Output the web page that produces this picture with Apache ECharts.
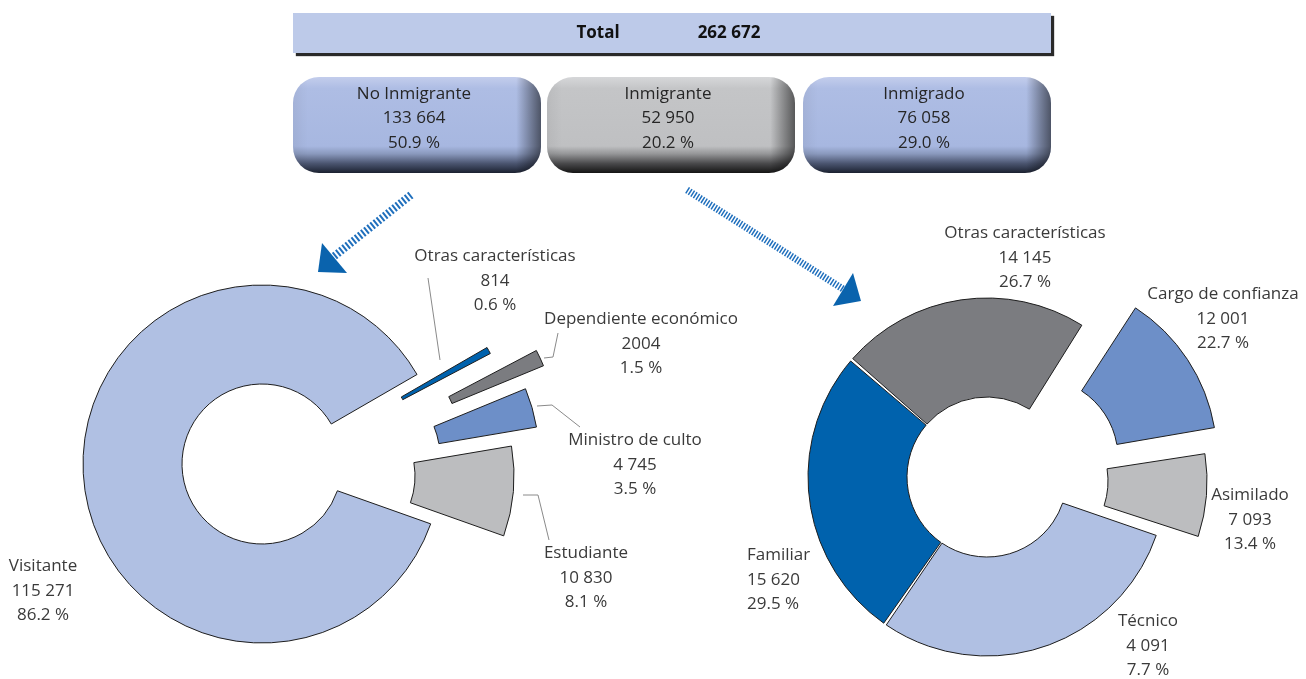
<!DOCTYPE html>
<html>
<head>
<meta charset="utf-8">
<script src="https://cdn.jsdelivr.net/npm/echarts@6/dist/echarts.min.js"></script>
<style>
html, body { margin: 0; padding: 0; background: #fff; }
#main { width: 1306px; height: 679px; }
</style>
</head>
<body>
<div id="main"></div>
<script>
// header
const totalLabel = 'Total';
const totalValue = '262 672';
const groupNames = ['No Inmigrante', 'Inmigrante', 'Inmigrado'];
const groupValues = ['133 664', '52 950', '76 058'];
const groupPct = ['50.9 %', '20.2 %', '29.0 %'];

// No Inmigrante, clockwise from the cut
const leftNames = ['Otras características', 'Dependiente económico', 'Ministro de culto', 'Estudiante', 'Visitante'];
const leftValues = [814, 2004, 4745, 10830, 115271];
const leftShown = ['814', '2004', '4 745', '10 830', '115 271'];
const leftPct = ['0.6 %', '1.5 %', '3.5 %', '8.1 %', '86.2 %'];

// Inmigrante, clockwise from the top cut
const rightNames = ['Cargo de confianza', 'Asimilado', 'Técnico', 'Familiar', 'Otras características'];
const rightValues = [12001, 7093, 4091, 15620, 14145];
const rightShown = ['12 001', '7 093', '4 091', '15 620', '14 145'];
const rightPct = ['22.7 %', '13.4 %', '7.7 %', '29.5 %', '26.7 %'];

window.addEventListener('load', function () {
    let chart = echarts.init(document.getElementById('main'));

    const font = 'Open Sans';
    const txt = '#3a3a3a';
    const edge = '#1e1e1e';

    const leftColors = ['#0062ad', '#7b7c80', '#6d8fc8', '#bcbdbf', '#b0c0e3'];
    // how far each piece is pulled out of the ring
    const leftPull = [[70, -27], [116, -30], [98, -7], [73, 12], [0, 0]];
    const leftPos = [[495, 281, 'center'], [641, 344, 'center'], [635, 465, 'center'], [586, 578, 'center'], [43, 591, 'center']];
    const leftLines = [
        [[440, 360], [434, 319], [428, 278]],
        [[544, 358], [553, 357], [558, 333]],
        [[537, 406], [552, 405], [580, 427]],
        [[523, 495], [538, 495], [549, 540]],
        null
    ];

    const rightColors = ['#6d8fc8', '#bcbdbf', '#b0c0e3', '#0062ad', '#7b7c80'];
    const rightPull = [[51, -19], [41, 4], [0, 0], [0, 0], [0, 0]];
    const rightPos = [[1223, 319, 'center'], [1250, 520, 'center'], [1148, 646, 'center'], [747, 580, 'left'], [1025, 258, 'center']];
    // the original draws every slice one step off its own label, keep that look
    const rightDrawn = rightValues.map((v, i) => rightValues[(i + 1) % rightValues.length]);

    // one series per piece, all slices in each so the angles stay the same
    function pieSeries(center, pull, values, names, shown, pct, colors, only, pos, lines, startAngle, pad) {
        return {
            type: 'pie',
            center: [center[0] + pull[0], center[1] + pull[1]],
            radius: [80, 179],
            startAngle: startAngle,
            padAngle: pad,
            clockwise: true,
            avoidLabelOverlap: false,
            silent: true,
            animation: false,
            emphasis: { disabled: true },
            data: values.map(function (v, i) {
                let on = only.includes(i);
                return {
                    value: v,
                    name: names[i],
                    itemStyle: on ? { color: colors[i], borderColor: edge, borderWidth: 1 }
                                  : { color: 'rgba(0,0,0,0)', borderWidth: 0 },
                    label: {
                        show: on,
                        formatter: names[i] + '\n' + shown[i] + '\n' + pct[i],
                        fontFamily: font, fontSize: 17, lineHeight: 24.5, color: txt
                    },
                    labelLine: { show: on && !!(lines && lines[i]) }
                };
            }),
            labelLine: { lineStyle: { color: '#8a8a8a', width: 1 }, length: 10, length2: 12 },
            labelLayout: function (p) {
                let q = pos[p.dataIndex];
                let out = { x: q[0], y: q[1], align: q[2], verticalAlign: 'middle' };
                if (lines && lines[p.dataIndex]) out.labelLinePoints = lines[p.dataIndex];
                return out;
            }
        };
    }

    let series = [];
    const lc = [262, 464];
    [4, 0, 1, 2, 3].forEach(function (i) {
        series.push(pieSeries(lc, leftPull[i], leftValues, leftNames, leftShown, leftPct, leftColors, [i], leftPos, leftLines, 30, 0));
    });
    const rc = [987, 477];
    series.push(pieSeries(rc, [0, 0], rightDrawn, rightNames, rightShown, rightPct, rightColors, [2, 3, 4], rightPos, null, 57.5, 1));
    [0, 1].forEach(function (i) {
        series.push(pieSeries(rc, rightPull[i], rightDrawn, rightNames, rightShown, rightPct, rightColors, [i], rightPos, null, 57.5, 1));
    });

    // header boxes
    let graphic = [];
    graphic.push({
        type: 'rect', shape: { x: 293, y: 13, width: 758, height: 40 },
        style: { fill: '#bdcae9', shadowColor: '#2a2a2a', shadowOffsetX: 3, shadowOffsetY: 3, shadowBlur: 1 },
        silent: true
    });
    graphic.push({ type: 'text', x: 598, y: 33, style: { text: totalLabel, font: 'bold 17px ' + font, fill: '#111', align: 'center', verticalAlign: 'middle' } });
    graphic.push({ type: 'text', x: 729, y: 33, style: { text: totalValue, font: 'bold 17px ' + font, fill: '#111', align: 'center', verticalAlign: 'middle' } });

    const boxX = [293, 547, 803];
    const blueFill = [['#c3cdec', 0], ['#aebde4', 0.12], ['#a7b7e0', 0.72], ['#8a99bd', 0.8], ['#4b5570', 0.9], ['#1b2130', 1]];
    const greyFill = [['#d6d7d9', 0], ['#c4c5c7', 0.12], ['#bfc0c2', 0.72], ['#959698', 0.8], ['#4a4a4c', 0.9], ['#141414', 1]];
    const boxFill = [blueFill, greyFill, blueFill];
    boxX.forEach(function (x, i) {
        graphic.push({
            type: 'rect', shape: { x: x, y: 77, width: 248, height: 96, r: 26 },
            style: {
                fill: new echarts.graphic.LinearGradient(0, 0, 0, 1, boxFill[i].map(s => ({ offset: s[1], color: s[0] })))
            },
            silent: true
        });
        graphic.push({
            type: 'rect', shape: { x: x, y: 77, width: 248, height: 96, r: 26 },
            style: {
                fill: new echarts.graphic.LinearGradient(0, 0, 1, 0, [
                    { offset: 0, color: 'rgba(0,0,0,0.05)' }, { offset: 0.06, color: 'rgba(0,0,0,0)' },
                    { offset: 0.9, color: 'rgba(0,0,0,0)' }, { offset: 1, color: 'rgba(0,0,0,0.55)' }])
            },
            silent: true
        });
        let cx = x + 121;
        [groupNames[i], groupValues[i], groupPct[i]].forEach(function (t, k) {
            graphic.push({ type: 'text', x: cx, y: 94 + k * 24.5,
                style: { text: t, font: '17px ' + font, fill: '#262626', align: 'center', verticalAlign: 'middle' } });
        });
    });

    // arrows
    graphic.push({ type: 'line', shape: { x1: 411, y1: 195, x2: 332, y2: 258 },
        style: { stroke: '#1f6fbd', lineWidth: 8, lineDash: [2, 2] }, silent: true });
    graphic.push({ type: 'polygon', shape: { points: [[322, 243], [318, 272], [347, 273]] },
        style: { fill: '#0a63ad' }, silent: true });
    graphic.push({ type: 'line', shape: { x1: 687, y1: 190, x2: 843, y2: 289 },
        style: { stroke: '#1f6fbd', lineWidth: 7, lineDash: [1.5, 1.5] }, silent: true });
    graphic.push({ type: 'polygon', shape: { points: [[853, 273], [861, 301], [833, 306]] },
        style: { fill: '#0a63ad' }, silent: true });

    let option = {
        backgroundColor: '#ffffff',
        animation: false,
        series: series,
        graphic: graphic
    };
    chart.setOption(option);
});
</script>
</body>
</html>
